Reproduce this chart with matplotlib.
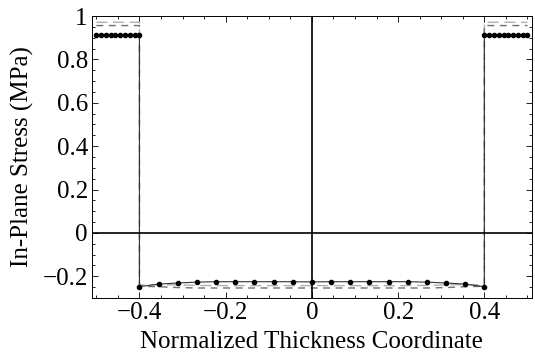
import numpy as np
from matplotlib import pyplot as plt
from matplotlib.ticker import MultipleLocator

plt.rcParams['font.family'] = ['Liberation Serif', 'DejaVu Serif']

# outer layers (|z| > 0.4) and core (|z| < 0.4)
z_left = np.linspace(-0.5, -0.4, 10)
z_core = np.linspace(-0.4, 0.4, 19)
z_right = np.linspace(0.4, 0.5, 10)

# series with markers
a_face = 0.913
a_core = [-0.248, -0.236, -0.231, -0.227, -0.225, -0.225, -0.225, -0.225, -0.225, -0.226,
          -0.225, -0.225, -0.225, -0.225, -0.225, -0.227, -0.231, -0.236, -0.248]
# dashed series
b_face = 0.956
b_core = [-0.246, -0.248, -0.252, -0.254, -0.254, -0.254, -0.254, -0.254, -0.254, -0.254,
          -0.254, -0.254, -0.254, -0.254, -0.254, -0.254, -0.252, -0.248, -0.246]
c_face = 0.971
c_core = [-0.240, -0.238, -0.240, -0.242, -0.243, -0.243, -0.243, -0.243, -0.243, -0.243,
          -0.243, -0.243, -0.243, -0.243, -0.243, -0.242, -0.240, -0.238, -0.240]


def series(face, core):
    x = np.concatenate([z_left, z_core, z_right])
    y = np.concatenate([np.full(10, face), core, np.full(10, face)])
    return x, y


def fmt(v, p):
    if abs(v) < 1e-9:
        return '0'
    return '{:g}'.format(round(v, 2)).replace('-', '\u2212')


fig = plt.figure(figsize=(5.35, 3.56), dpi=100)
ax = fig.add_axes([0.172, 0.163, 0.822, 0.792])

x, y = series(c_face, c_core)
ax.plot(x, y, color='#b0b0b0', lw=1.0, dashes=(8, 4))
x, y = series(b_face, b_core)
ax.plot(x, y, color='#707070', lw=1.0, dashes=(5, 4))
x, y = series(a_face, a_core)
ax.plot(x, y, color='#333333', lw=0.8, marker='o', ms=3.0, mfc='black', mec='black')

# axes through the origin
ax.axhline(0, color='black', lw=1.2)
ax.axvline(0, color='black', lw=1.2)

ax.set_xlim(-0.51, 0.51)
ax.set_ylim(-0.30, 1.0)
ax.xaxis.set_major_locator(MultipleLocator(0.2))
ax.xaxis.set_minor_locator(MultipleLocator(0.05))
ax.yaxis.set_major_locator(MultipleLocator(0.2))
ax.yaxis.set_minor_locator(MultipleLocator(0.05))
ax.xaxis.set_major_formatter(plt.FuncFormatter(fmt))
ax.yaxis.set_major_formatter(plt.FuncFormatter(fmt))
ax.tick_params(which='both', direction='in', top=True, right=True, labelsize=18, width=0.6, pad=3)
ax.tick_params(which='major', length=4)
ax.tick_params(which='minor', length=2)
for s in ax.spines.values():
    s.set_linewidth(0.7)

ax.set_xlabel('Normalized Thickness Coordinate', fontsize=18, labelpad=5)
ax.set_ylabel('In-Plane Stress (MPa)', fontsize=18, labelpad=6)

plt.savefig('out.png', dpi=100)
